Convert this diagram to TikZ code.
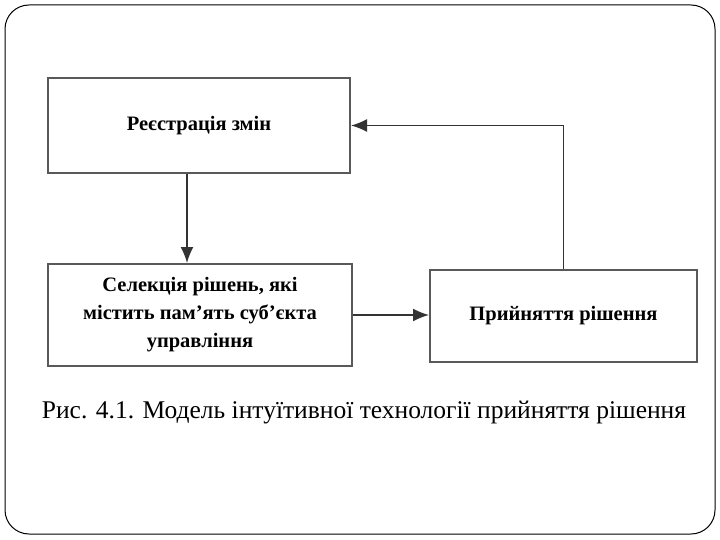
\documentclass[tikz,border=0pt]{standalone}
\usepackage{fontspec}
\setmainfont{Liberation Serif}
\usetikzlibrary{arrows.meta,positioning}

\tikzset{
  blok/.style={rectangle, draw=black!65, line width=2pt, inner sep=0pt,
    align=center, font=\fontsize{20.5}{28}\selectfont\bfseries},
  strilka/.style={draw=black!80, line width=1.6pt,
    -{Latex[length=16pt,width=13pt]}}
}

\begin{document}
\begin{tikzpicture}[x=1pt, y=-1pt]

\useasboundingbox (0,0) rectangle (720,540);
\draw[line width=1pt, rounded corners=24pt] (5,5) rectangle (715,534);

% Bloky
\node[blok, minimum width=302pt, minimum height=95pt] (reestr) at (199,125.5) {Реєстрація змін};
\node[blok, minimum width=304pt, minimum height=102pt] (selek) at (200,315)
	{Селекція рішень, які\\містить пам'ять суб'єкта\\управління};
\node[blok, minimum width=267pt, minimum height=92pt] (pryin) at (563.5,316) {Прийняття рішення};

% Zv'iazky
\draw[strilka] ([xshift=-12pt]reestr.south) -- ([xshift=-12pt]reestr.south |- selek.north);
\draw[strilka] (selek.east) -- (selek.east -| pryin.west);
\draw[strilka] (pryin.north) -- (pryin.north |- reestr.east) -- (reestr.east);

% Pidpys
\node[font=\fontsize{25.5}{30}\selectfont] (pidpys) at (364,413)
	{Рис. 4.1. Модель інтуїтивної технології прийняття рішення};

\end{tikzpicture}
\end{document}
